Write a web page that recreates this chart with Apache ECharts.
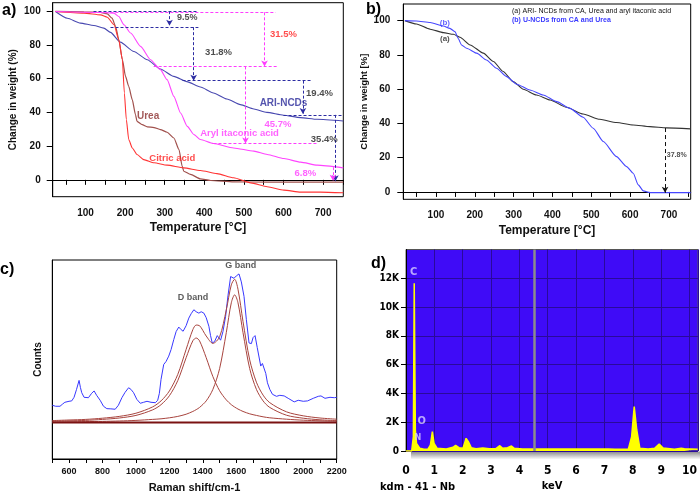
<!DOCTYPE html>
<html><head><meta charset="utf-8">
<script src="https://cdn.jsdelivr.net/npm/echarts@6/dist/echarts.min.js"></script>
<style>html,body{margin:0;padding:0;background:#fff}#c{width:700px;height:494px}</style>
</head><body><div id="c"></div><script>
// ---------- Panel a: TGA of precursors and ARI-NCDs ----------
const aAriNcds = [[24,99.8],[54,95.8],[87,92.9],[121,91.5],[146,89.9],[163,87.4],[188,81.6],[222,76.1],[256,71.2],[289,65.7],[323,61.3],[356,58.2],[390,55],[423,51.5],[457,47.9],[491,44.6],[525,42],[558,40],[600,38.3],[643,36.9],[685,35.9],[751,34.9]];
const aUrea = [[24,99.8],[96,99.6],[138,99.2],[155,98.4],[167,95.8],[176,90.9],[184,83],[193,71.2],[201,61.3],[209,55.4],[218,47.5],[226,38.7],[230,34.7],[243,32.7],[256,31.4],[273,31],[289,29.8],[306,28.2],[323,24.8],[336,17.9],[344,8.1],[348,5.1],[365,3.2],[390,0.6],[416,-0.4],[474,-1.2],[559,-1.4],[751,-1.4]];
const aCitric = [[24,99.8],[96,98.8],[138,97.8],[155,96.4],[172,91.9],[184,83],[193,71.2],[198,51.5],[203,35.7],[209,23.9],[218,18.9],[230,15],[247,12],[273,10.1],[306,8.7],[348,7.1],[390,5.5],[432,3.7],[474,1.2],[517,-1.8],[559,-4.1],[601,-6.1],[643,-7.3],[693,-7.3],[751,-7.7]];
const aAryl = [[24,99.8],[138,99.2],[172,98.8],[184,96.8],[197,91.9],[214,87],[239,79.1],[264,71.2],[289,65.3],[306,59.4],[323,49.5],[340,39.6],[357,31.7],[374,26.8],[390,23.9],[423,21.5],[474,18.9],[525,17],[559,15],[601,12.6],[643,10.5],[685,8.7],[751,7.1]];
const aXTicks = [50,100,150,200,250,300,350,400,450,500,550,600,650,700,750];
const aXLabels = [100,200,300,400,500,600,700];
const aYLabels = [0,20,40,60,80,100];

// ---------- Panel b: ARI-NCDs vs U-NCDs ----------
const bAriNcds = [[20,100],[50,98],[85,95],[119,93],[145,92],[162,90.3],[188,85.8],[222,81],[248,76.1],[273,70.3],[299,64.4],[325,59.9],[359,56.6],[394,53.7],[436,49.4],[479,45.5],[522,42.4],[565,40.5],[608,39.1],[651,38.1],[694,37.4],[756,36.8]];
const bUNcds = [[20,100],[50,99.8],[85,98.9],[119,96.9],[136,95.5],[149,93.6],[157,89.7],[166,85.8],[179,83.9],[205,81],[230,77],[256,72.2],[282,67.3],[308,62.9],[342,59.5],[376,56.6],[411,52.7],[445,48.8],[479,43.6],[505,37.2],[531,29.4],[565,20.6],[591,14.8],[608,10.9],[621,4.1],[634,0.6],[651,-0.4],[694,-0.4],[756,-0.4]];
const bXTicks = [50,100,150,200,250,300,350,400,450,500,550,600,650,700,750];
const bXLabels = [100,200,300,400,500,600,700];
const bYLabels = [0,20,40,60,80,100];

// ---------- Panel c: Raman spectrum ----------
const cRaman = [[500,27],[506,27.5],[520,26.5],[546,26.5],[560,27.5],[575,28.5],[586,29.5],[600,29],[616,29.2],[630,31],[645,35],[660,39.5],[668,36],[676,33.3],[690,31],[716,30.8],[735,33],[750,34.2],[765,32],[786,29.5],[806,26.5],[826,25.3],[850,25.2],[876,25],[895,27],[916,30.8],[935,33.5],[956,35.8],[970,35],[986,33.3],[1005,30],[1026,28],[1046,28.5],[1066,29],[1090,28.5],[1116,28.3],[1130,29.5],[1140,33],[1150,40],[1166,47.5],[1180,49],[1196,51.7],[1210,55],[1226,60],[1240,64],[1256,66.3],[1270,65],[1282,64.2],[1300,67],[1316,70.8],[1330,73],[1346,75],[1360,74],[1376,73.3],[1390,74],[1406,73.3],[1420,71],[1436,66.7],[1446,62],[1456,58.3],[1470,59],[1486,62],[1495,61],[1506,59.7],[1520,64],[1536,71.7],[1550,82],[1566,91.7],[1576,92],[1586,90.8],[1600,92],[1616,93],[1630,89],[1646,81.7],[1660,70],[1676,58.3],[1690,58],[1700,61],[1712,62],[1725,56],[1746,46.7],[1756,48],[1766,47.5],[1776,43],[1786,38.3],[1800,35],[1816,32.5],[1840,31.5],[1860,32],[1886,31.7],[1910,30.5],[1946,28.7],[1970,29.5],[2000,29],[2026,29.2],[2060,30.5],[2090,31.5],[2106,31.7],[2130,30.5],[2160,31],[2186,30.8],[2200,31]];
const cFitX = [500,600,700,800,900,1000,1100,1150,1200,1250,1300,1340,1360,1380,1420,1460,1500,1540,1570,1590,1610,1640,1680,1720,1760,1800,1900,2000,2100,2200];
const cDBand = [19.0,19.2,19.4,19.9,20.6,21.9,24.7,27.3,31.8,39.4,50.9,59.4,60.8,59.4,50.9,41.4,34.3,29.7,27.3,26.1,25.1,23.9,22.7,21.9,21.2,20.7,20.0,19.5,19.2,19.0];
const cGBand = [18.6,18.7,18.8,18.9,19.1,19.4,19.9,20.2,20.7,21.4,22.5,23.9,24.8,25.9,29.2,35.0,45.4,63.5,78.5,82.5,78.5,63.5,45.4,35.0,29.2,25.9,22.0,20.5,19.7,19.3];
const cFitSum = [19.3,19.6,19.9,20.5,21.4,23.0,26.2,29.2,34.2,42.5,55.1,65.0,67.3,67.0,61.8,58.1,61.4,74.9,87.5,90.3,85.3,69.1,49.8,38.6,32.1,28.3,23.7,21.7,20.6,20.0];
const cBaseline = [[500,18.3],[2200,18.3]];
const cXTicks = [500,600,700,800,900,1000,1100,1200,1300,1400,1500,1600,1700,1800,1900,2000,2100,2200];
const cXLabels = [600,800,1000,1200,1400,1600,1800,2000,2200];

// ---------- Panel d: EDS spectrum ----------
const dEds = [[0,0],[0.2,0],[0.26,1000],[0.29,11650],[0.33,1460],[0.37,530],[0.43,650],[0.49,185],[0.55,300],[0.63,115],[0.78,140],[0.86,417],[0.93,1340],[0.99,530],[1.1,185],[1.42,140],[1.66,255],[1.75,394],[1.87,232],[2.01,185],[2.12,880],[2.2,650],[2.3,232],[2.47,162],[2.71,208],[2.94,162],[3.17,162],[3.31,370],[3.41,185],[3.58,232],[3.72,347],[3.82,185],[4.11,140],[5.04,140],[6.21,140],[7.14,140],[7.37,115],[7.84,115],[7.96,1000],[8.05,3080],[8.14,1460],[8.25,185],[8.54,140],[8.77,185],[8.93,486],[9.07,208],[9.47,115],[9.71,185],[9.82,162],[10.29,115]];
const dYLabels = [0,2000,4000,6000,8000,10000,12000];
const dXLabels = [0,1,2,3,4,5,6,7,8,9,10];
const dCursorKeV = 4.52;

const F = '"Liberation Sans", Arial, sans-serif';
const FN = '"DejaVu Sans Condensed", "DejaVu Sans", sans-serif';
const CW = 'bold condensed';
const BLUE_A = '#2c2ca2', PINK = '#ff3cff';

function dl(x1,y1,x2,y2,arrow){
  return [{coord:[x1,y1],symbol:'none'},{coord:[x2,y2],symbol:arrow?'arrow':'none',symbolSize:arrow?[5,6]:0}];
}
function txt(x,y,name,color,size){
  return {value:[x,y],name:name,label:{color:color,fontSize:size||9}};
}
function textSeries(xi,data){
  return {type:'scatter',xAxisIndex:xi,yAxisIndex:xi,symbolSize:0,silent:true,z:5,data:data,
    label:{show:true,position:'inside',formatter:p=>p.name,fontFamily:F,fontWeight:'bold'}};
}
function commonLine(xi,data,color,w){
  return {type:'line',xAxisIndex:xi,yAxisIndex:xi,data:data,showSymbol:false,symbol:'none',
    smooth:0.2,smoothMonotone:'x',lineStyle:{color:color,width:w||1.1},silent:true};
}

const chart = echarts.init(document.getElementById('c'),null,{renderer:'canvas'});
const axisBlack = {lineStyle:{color:'#000',width:1}};
const tickLbl = {fontFamily:F,fontWeight:'bold',fontSize:10,color:'#111',formatter:v=>String(v)};

const option = {
  animation:false,
  backgroundColor:'#fff',
  grid:[
    {left:52.7,top:2.7,width:290.6,height:194,show:true,borderColor:'#000',borderWidth:1},
    {left:403.3,top:4,width:287.4,height:195.3,show:true,borderColor:'#000',borderWidth:1},
    {left:52.3,top:260,width:284.4,height:200,show:true,borderColor:'#000',borderWidth:1},
    {left:406,top:249.5,width:294,height:201.5,show:true,backgroundColor:'#3f0bf7',borderColor:'#555',borderWidth:1}
  ],
  xAxis:[
    {gridIndex:0,type:'value',min:17,max:751,axisLine:axisBlack,
     axisTick:{length:5,customValues:aXTicks,lineStyle:{color:'#000'}},
     axisLabel:Object.assign({customValues:aXLabels,margin:12},tickLbl),splitLine:{show:false},
     name:'Temperature [°C]',nameLocation:'middle',nameGap:25,nameTextStyle:{fontFamily:F,fontWeight:'bold',fontSize:12,color:'#111',verticalAlign:'top'}},
    {gridIndex:1,type:'value',min:16,max:756,axisLine:axisBlack,
     axisTick:{length:5,customValues:bXTicks,lineStyle:{color:'#000'}},
     axisLabel:Object.assign({customValues:bXLabels,margin:11},tickLbl),splitLine:{show:false},
     name:'Temperature [°C]',nameLocation:'middle',nameGap:25,nameTextStyle:{fontFamily:F,fontWeight:'bold',fontSize:12,color:'#111',verticalAlign:'top'}},
    {gridIndex:2,type:'value',min:500,max:2200,axisLine:axisBlack,
     axisTick:{length:4,customValues:cXTicks,lineStyle:{color:'#000'}},
     axisLabel:Object.assign({customValues:cXLabels,margin:8},tickLbl,{fontSize:9}),splitLine:{show:false},
     name:'Raman shift/cm-1',nameLocation:'middle',nameGap:23,nameTextStyle:{fontFamily:F,fontWeight:'bold',fontSize:11,color:'#111',verticalAlign:'top'}},
    {gridIndex:3,type:'value',min:0,max:10.3,interval:1,axisLine:{show:false},axisTick:{show:false},
     axisLabel:{customValues:dXLabels,margin:14,fontFamily:FN,fontWeight:CW,fontSize:12,color:'#000'},
     splitLine:{show:true,lineStyle:{color:'#2a0a9a',width:1}},
     name:'keV',nameLocation:'middle',nameGap:30,nameTextStyle:{fontFamily:FN,fontWeight:CW,fontSize:11,color:'#000',verticalAlign:'top'}}
  ],
  yAxis:[
    {gridIndex:0,type:'value',min:-10,max:105,axisLine:axisBlack,
     axisTick:{length:6,customValues:aYLabels,lineStyle:{color:'#000'}},
     axisLabel:Object.assign({customValues:aYLabels,margin:12},tickLbl),splitLine:{show:false},
     name:'Change in weight (%)',nameLocation:'middle',nameGap:34,nameTextStyle:{fontFamily:F,fontWeight:'bold',fontSize:10,color:'#111'}},
    {gridIndex:1,type:'value',min:-4.3,max:109.7,axisLine:axisBlack,
     axisTick:{length:6,customValues:bYLabels,lineStyle:{color:'#000'}},
     axisLabel:Object.assign({customValues:bYLabels,margin:13},tickLbl),splitLine:{show:false},
     name:'Change in weight [%]',nameLocation:'middle',nameGap:28,nameTextStyle:{fontFamily:F,fontWeight:'bold',fontSize:9.5,color:'#111'}},
    {gridIndex:2,type:'value',min:0,max:100,axisLine:axisBlack,axisTick:{show:false},axisLabel:{show:false},splitLine:{show:false},
     name:'Counts',nameLocation:'middle',nameGap:9,nameTextStyle:{fontFamily:F,fontWeight:'bold',fontSize:10,color:'#111'}},
    {gridIndex:3,type:'value',min:0,max:14000,interval:2000,axisLine:{show:true,lineStyle:{color:'#000',width:1}},
     axisTick:{show:true,length:5,customValues:dYLabels,lineStyle:{color:'#000'}},
     axisLabel:{customValues:dYLabels,margin:7,fontFamily:FN,fontWeight:CW,fontSize:10,color:'#000',
       formatter:v=>v===0?'0':(v/1000)+'K'},
     splitLine:{show:true,lineStyle:{color:'#2a0a9a',width:1}}}
  ],
  series:[
    // panel a
    Object.assign(commonLine(0,aAriNcds,'#4848b0'),{markLine:{silent:true,symbol:'none',label:{show:false},
      lineStyle:{color:BLUE_A,type:[3,2],width:1},
      data:[dl(120,100,385,100),dl(312,100,312,91.3,1),dl(163,90.5,385,90.5),dl(373,90.5,373,58.8,1),
            dl(345,58.8,673,58.8),dl(649,58.8,649,39,1),dl(600,38.5,751,38.5),dl(731,38.5,731,-0.8,1)]}}),
    commonLine(0,aUrea,'#a0504c',1.2),
    commonLine(0,aCitric,'#ff3434'),
    Object.assign(commonLine(0,aAryl,'#ff44ff'),{markLine:{silent:true,symbol:'none',label:{show:false},
      lineStyle:{color:PINK,type:[3,2],width:1},
      data:[dl(150,99.3,580,99.3),dl(552,99.3,552,67.2,1),dl(272,67.2,584,67.2),dl(504,67.2,504,21.5,1),
            dl(423,21.5,685,21.5),dl(725,7.5,725,-0.5,1)]}}),
    textSeries(0,[
      txt(357,96.2,'9.5%','#222'),txt(600,86.3,'31.5%','#ff2020',9.5),txt(436,75.8,'31.8%','#222',9.5),
      txt(691,51.2,'19.4%','#222',9.5),txt(600,45.6,'ARI-NCDs','#2a2a9a',10),txt(586,32.7,'45.7%',PINK,9.5),
      txt(489,27.8,'Aryl itaconic acid',PINK,9.5),txt(703,23.7,'35.4%','#222',9.5),
      txt(319,13,'Citric acid','#ff2020',9.5),txt(258,37.9,'Urea','#8b2e2e',10),txt(655,3.8,'6.8%',PINK,9.5)
    ]),
    // panel b
    Object.assign(commonLine(1,bAriNcds,'#333'),{markLine:{silent:true,symbol:'none',label:{show:false},
      lineStyle:{color:'#111',type:[4,3],width:1},data:[dl(690,37.3,690,-0.5,1)]}}),
    commonLine(1,bUNcds,'#4646ff'),
    textSeries(1,[txt(720,21.6,'37.8%','#222',7),txt(123,98.5,'(b)','#3b3bff',8),txt(123,89.1,'(a)','#222',8)]),
    // panel c
    {type:'line',xAxisIndex:2,yAxisIndex:2,data:cRaman,showSymbol:false,symbol:'none',lineStyle:{color:'#3838ff',width:1},silent:true},
    {type:'line',xAxisIndex:2,yAxisIndex:2,data:cFitX.map((x,i)=>[x,cDBand[i]]),showSymbol:false,symbol:'none',smooth:0.3,lineStyle:{color:'#a8443e',width:1},silent:true},
    {type:'line',xAxisIndex:2,yAxisIndex:2,data:cFitX.map((x,i)=>[x,cGBand[i]]),showSymbol:false,symbol:'none',smooth:0.3,lineStyle:{color:'#a8443e',width:1},silent:true},
    {type:'line',xAxisIndex:2,yAxisIndex:2,data:cFitX.map((x,i)=>[x,cFitSum[i]]),showSymbol:false,symbol:'none',smooth:0.3,lineStyle:{color:'#a8443e',width:1},silent:true},
    {type:'line',xAxisIndex:2,yAxisIndex:2,data:cBaseline,showSymbol:false,symbol:'none',lineStyle:{color:'#7a1212',width:2},silent:true},
    textSeries(2,[txt(1341,80.9,'D band','#333'),txt(1626,97,'G band','#333')]),
    // panel d
    {type:'line',xAxisIndex:3,yAxisIndex:3,data:dEds,showSymbol:false,symbol:'none',
     lineStyle:{color:'#ffff00',width:1.5},areaStyle:{color:'#ffff00',opacity:1},silent:true,
     markLine:{silent:true,symbol:'none',label:{show:false},lineStyle:{color:'#8c8c8c',type:'solid',width:2.5},data:[{xAxis:dCursorKeV}]}},
    {type:'scatter',xAxisIndex:3,yAxisIndex:3,symbolSize:0,silent:true,z:5,
     data:[txt(0.27,12400,'C','#d8d0ff',11),txt(0.55,2100,'O','#d8d0ff',11),txt(0.42,900,'N','#d8d0ff',9)],
     label:{show:true,position:'inside',formatter:p=>p.name,fontFamily:FN,fontWeight:CW}}
  ],
  graphic:[
    {type:'text',left:2,top:3,style:{text:'a)',font:'bold 16px '+F,fill:'#000'}},
    {type:'text',left:366,top:2,style:{text:'b)',font:'bold 16px '+F,fill:'#000'}},
    {type:'text',left:0,top:262,style:{text:'c)',font:'bold 16px '+F,fill:'#000'}},
    {type:'text',left:371,top:256,style:{text:'d)',font:'bold 16px '+F,fill:'#000'}},
    {type:'text',left:512,top:8,style:{text:'(a) ARI- NCDs from CA, Urea and aryl itaconic acid',font:'7px '+F,fill:'#111'}},
    {type:'text',left:512,top:17,style:{text:'(b) U-NCDs from CA and Urea',font:'bold 7px '+F,fill:'#3b3bff'}},
    {type:'text',left:380,top:482,style:{text:'kdm - 41 - Nb',font:'bold condensed 11px '+FN,fill:'#000'}},
    {type:'rect',left:411,top:451.5,shape:{width:289,height:8},z:-1,
     style:{fill:new echarts.graphic.LinearGradient(0,0,0,1,[{offset:0,color:'#8a8a8a'},{offset:1,color:'#ffffff'}])}}
  ]
};
chart.setOption(option);
</script></body></html>
